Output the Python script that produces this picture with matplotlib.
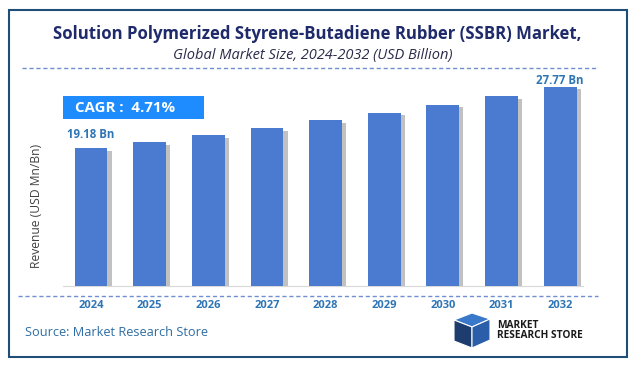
import matplotlib
matplotlib.use("Agg")
from matplotlib import pyplot as plt
from matplotlib import patheffects as pe
from matplotlib.patches import Rectangle, Polygon
from matplotlib.lines import Line2D

years = ["2024", "2025", "2026", "2027", "2028", "2029", "2030", "2031", "2032"]
values = [19.18, 20.08, 21.03, 22.02, 23.06, 24.15, 25.28, 26.47, 27.77]
shown_labels = {0: "19.18 Bn", 8: "27.77 Bn"}
cagr_text = "CAGR :  4.71%"

W, H = 633, 367
fig = plt.figure(figsize=(W / 100, H / 100), dpi=100)
plt.rcParams['font.family'] = ['Open Sans', 'DejaVu Sans']


def fx(px):
    return px / W


def fy(py):
    return 1 - py / H


# outer frame
fig.patches.append(Rectangle((fx(9), fy(357)), fx(618), (357 - 10) / H,
                             transform=fig.transFigure, fill=False,
                             edgecolor='#1f4e79', lw=1.5))

fig.text(fx(317), fy(34), "Solution Polymerized Styrene-Butadiene Rubber (SSBR) Market,",
         ha='center', va='center', fontsize=12.1, fontweight='bold', color='#1f2a6b')
fig.text(fx(313), fy(55), "Global Market Size, 2024-2032 (USD Billion)",
         ha='center', va='center', fontsize=10.5, style='italic', color='#2b2b4b')

# dashed separators
for y, x0, x1 in [(68, 22, 597), (296, 18, 598)]:
    fig.lines.append(Line2D([fx(x0), fx(x1)], [fy(y), fy(y)], transform=fig.transFigure,
                            color='#6f8fcf', lw=1, dashes=(3, 2)))

ax = fig.add_axes([fx(63), fy(286), fx(583 - 63), (286 - 75) / H])
xs = list(range(len(years)))
bars = ax.bar(xs, values, width=0.56, color='#4a7bd0', zorder=3)
for b in bars:
    b.set_path_effects([pe.SimplePatchShadow(offset=(3, -2), shadow_rgbFace='#666666', alpha=0.4),
                        pe.Normal()])
label_offsets = {0: 5, 8: 0}
for i, lab in shown_labels.items():
    ax.annotate(lab, (xs[i], values[i]), xytext=(0, label_offsets[i]), textcoords='offset points',
                ha='center', va='bottom', fontsize=8.3, fontweight='bold', color='#2e75b6')

ax.set_xlim(-0.478, 8.39)
ax.set_ylim(0, 29.39)
ax.set_xticks(xs)
ax.set_xticklabels(years, fontsize=8.0, fontweight='bold', color='#2e75b6')
ax.tick_params(axis='x', length=0, pad=10)
ax.set_yticks([])
for s in ['top', 'right', 'left']:
    ax.spines[s].set_visible(False)
ax.spines['bottom'].set_color('#d9d9d9')
ax.set_facecolor('none')

fig.text(fx(36), fy(206), "Revenue (USD Mn/Bn)", rotation=90, ha='center', va='center',
         fontsize=8.7, color='#404040')

# CAGR box
fig.patches.append(Rectangle((fx(63), fy(119)), fx(141), 23 / H, transform=fig.transFigure,
                             facecolor='#1e8cff', edgecolor='none'))
fig.text(fx(75), fy(107.5), cagr_text, ha='left', va='center', fontsize=10.8,
         fontweight='bold', color='white')

fig.text(fx(25), fy(333), "Source: Market Research Store", ha='left', va='center',
         fontsize=9.2, color='#2e6da4')

# logo
logo = [
    ([(454, 320), (472, 313), (490, 319), (472, 327)], '#3a78c9'),
    ([(454, 320), (472, 327), (472, 348), (454, 341)], '#1c3d6e'),
    ([(472, 327), (490, 319), (490, 340), (472, 348)], '#2a5ea8'),
]
for pts, c in logo:
    fig.patches.append(Polygon([(fx(x), fy(y)) for x, y in pts], closed=True,
                               transform=fig.transFigure, facecolor=c, edgecolor='white', lw=0.8))
fig.text(fx(497), fy(325), "MARKET", ha='left', va='center', fontsize=7.3,
         fontweight='bold', color='#1a1a1a')
fig.text(fx(497), fy(335), "RESEARCH STORE", ha='left', va='center', fontsize=7.3,
         fontweight='bold', color='#1a1a1a')

fig.savefig("out.png", dpi=100)
